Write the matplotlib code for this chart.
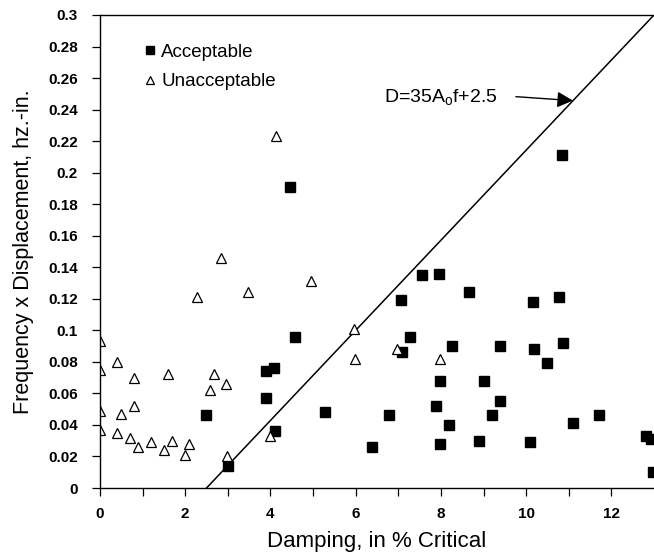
import matplotlib
matplotlib.use("Agg")
import matplotlib.pyplot as plt
import numpy as np

plt.rcParams['font.family'] = ['Liberation Sans', 'DejaVu Sans']

# acceptable points (damping %, freq x displacement)
acc_x = [2.49, 3.01, 3.89, 3.89, 4.09, 4.10, 4.46, 4.57, 5.28, 6.39, 6.79, 7.06,
         7.08, 7.27, 7.56, 7.96, 8.67, 8.27, 7.98, 7.89, 8.18, 7.99, 8.90, 9.00,
         9.19, 9.39, 9.38, 10.09, 10.17, 10.19, 10.78, 10.87, 10.50, 10.84,
         11.09, 11.70, 12.81, 12.92, 12.97]
acc_y = [0.046, 0.014, 0.074, 0.057, 0.076, 0.036, 0.191, 0.096, 0.048, 0.026,
         0.046, 0.119, 0.086, 0.096, 0.135, 0.136, 0.124, 0.090, 0.068, 0.052,
         0.040, 0.028, 0.030, 0.068, 0.046, 0.055, 0.090, 0.029, 0.118, 0.088,
         0.121, 0.092, 0.079, 0.211, 0.041, 0.046, 0.033, 0.031, 0.010]

# unacceptable points
unacc_x = [0.0, 0.0, 0.0, 0.0, 0.39, 0.80, 0.49, 0.80, 0.40, 0.70, 0.90, 1.20,
           1.51, 1.70, 2.00, 2.09, 1.60, 2.27, 2.85, 3.47, 2.59, 2.67, 2.96,
           2.98, 3.98, 4.14, 4.95, 5.97, 5.98, 6.96, 7.97]
unacc_y = [0.093, 0.075, 0.049, 0.037, 0.080, 0.070, 0.047, 0.052, 0.035, 0.032,
           0.026, 0.029, 0.024, 0.030, 0.021, 0.028, 0.072, 0.121, 0.146, 0.124,
           0.062, 0.072, 0.066, 0.020, 0.033, 0.223, 0.131, 0.101, 0.082, 0.088,
           0.082]

# D = 35*A*f + 2.5  ->  A*f = (D - 2.5) / 35
line_d = np.array([2.5, 13.0])
line_af = (line_d - 2.5) / 35

fig = plt.figure(figsize=(6.54, 5.53), dpi=100)
ax = fig.add_axes([100 / 654, 65 / 553, 554 / 654, 473 / 553])

ax.plot(line_d, line_af, color='black', lw=1.1)
ax.plot(acc_x, acc_y, 's', color='black', ms=6.5, label='Acceptable')
ax.plot(unacc_x, unacc_y, '^', mfc='white', mec='black', mew=0.9, ms=6.5,
        label='Unacceptable')

ax.set_xlim(0, 13)
ax.set_ylim(0, 0.3)
ax.set_xticks(np.arange(0, 13, 2))
ax.set_xticks(np.arange(1, 13, 2), minor=True)
ax.set_yticks(np.arange(0, 0.301, 0.02))
ax.set_yticklabels(['0', '0.02', '0.04', '0.06', '0.08', '0.1', '0.12', '0.14',
                    '0.16', '0.18', '0.2', '0.22', '0.24', '0.26', '0.28', '0.3'])
ax.tick_params(axis='both', which='both', direction='out', length=6, width=0.9,
               labelsize=11)
ax.tick_params(axis='y', pad=10)
ax.tick_params(axis='x', pad=8)
for lab in ax.get_xticklabels() + ax.get_yticklabels():
    lab.set_fontweight('bold')

ax.spines['right'].set_visible(False)
for s in ['left', 'bottom', 'top']:
    ax.spines[s].set_linewidth(1.0)

ax.set_xlabel('Damping, in % Critical', fontsize=16, labelpad=7)
ax.set_ylabel('Frequency x Displacement, hz.-in.', fontsize=15.5, labelpad=10)

ax.text(6.66, 0.2475, r'D=35A$_\mathregular{o}$f+2.5', fontsize=14,
        va='center', ha='left')
ax.annotate('', xy=(11.1, 0.2457), xytext=(9.76, 0.2482),
            arrowprops=dict(arrowstyle='-|>', color='black', lw=1,
                            mutation_scale=24, shrinkA=0, shrinkB=0))

ax.legend(loc='upper left', bbox_to_anchor=(0.05, 0.975), frameon=False,
          fontsize=13.5, handlelength=0.6, handletextpad=0.3, markerscale=0.8,
          labelspacing=0.65)

plt.savefig('out.png', dpi=100)
plt.close()
